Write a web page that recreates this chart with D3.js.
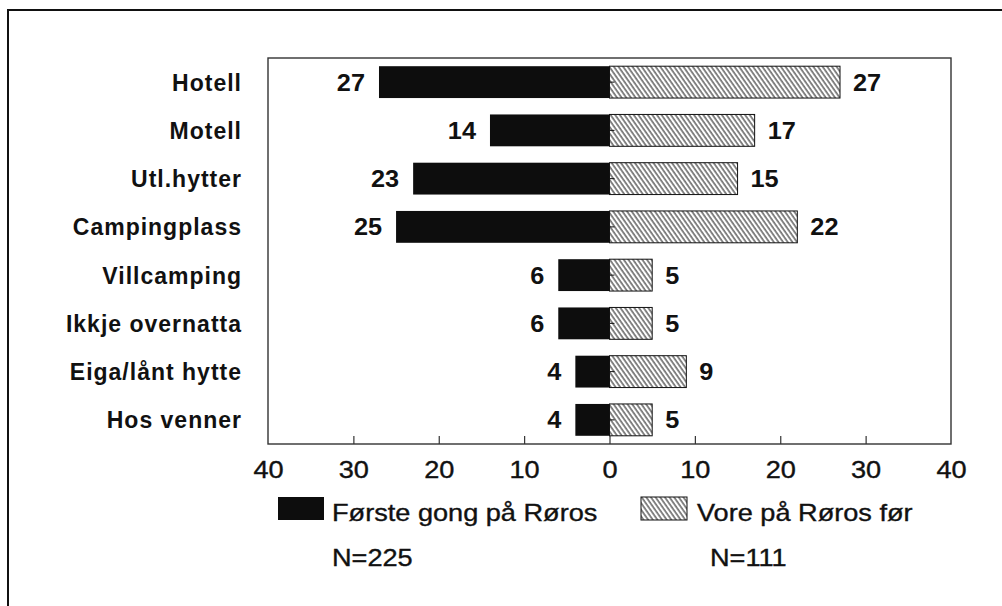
<!DOCTYPE html>
<html>
<head>
<meta charset="utf-8">
<script src="https://cdn.jsdelivr.net/npm/d3@7"></script>
<style>
  html, body { margin: 0; padding: 0; background: #fff; }
  svg { display: block; }
  text { font-family: "Liberation Sans", Arial, sans-serif; fill: #111; }
</style>
</head>
<body>
<svg id="chart" width="1002" height="606"></svg>
<script>
const categories = ["Hotell", "Motell", "Utl.hytter", "Campingplass", "Villcamping", "Ikkje overnatta", "Eiga/lånt hytte", "Hos venner"];
const firstTime = [27, 14, 23, 25, 6, 6, 4, 4];     // Første gong på Røros
const beenBefore = [27, 17, 15, 22, 5, 5, 9, 5];    // Vore på Røros før
const tickValues = [-40, -30, -20, -10, 0, 10, 20, 30, 40];
const legendLabels = ["Første gong på Røros", "Vore på Røros før"];
const nLabels = ["N=225", "N=111"];

(function () {
const svg = d3.select("#chart");
const SX = 1.18; // horizontal stretch of the wide typeface

const defs = svg.append("defs");
defs.append("pattern")
  .attr("id", "hatch")
  .attr("patternUnits", "userSpaceOnUse")
  .attr("width", 3.8).attr("height", 10)
  .attr("patternTransform", "rotate(-35)")
  .append("line")
  .attr("x1", 1).attr("y1", 0).attr("x2", 1).attr("y2", 10)
  .attr("stroke", "#111").attr("stroke-width", 1);

// outer frame
svg.append("rect")
  .attr("x", 8).attr("y", 10).attr("width", 1010).attr("height", 620)
  .attr("fill", "none").attr("stroke", "#111").attr("stroke-width", 2);

const pL = 268, pR = 951, pT = 58, pB = 444;
const x = d3.scaleLinear().domain([-40, 40]).range([pL, pR]);
const y = d3.scaleBand().domain(categories).range([pT, pB]).paddingInner(0.34).paddingOuter(0.17);

// plot box
svg.append("rect")
  .attr("x", pL).attr("y", pT).attr("width", pR - pL).attr("height", pB - pT)
  .attr("fill", "none").attr("stroke", "#333").attr("stroke-width", 1.4);

// bottom axis (ticks pointing inward)
const axis = d3.axisBottom(x).tickValues(tickValues).tickSizeInner(-8).tickSizeOuter(0)
  .tickFormat(d => Math.abs(d)).tickPadding(0);
const gAxis = svg.append("g").attr("transform", `translate(0,${pB})`).call(axis);
gAxis.select(".domain").remove();
gAxis.selectAll(".tick line").attr("stroke", "#333").attr("stroke-width", 1.2)
  .filter(d => Math.abs(d) === 40).remove();
gAxis.selectAll(".tick text")
  .attr("y", 0).attr("dy", 0)
  .attr("transform", `translate(0,34) scale(${SX},1)`)
  .attr("font-family", null).attr("font-size", null)
  .style("font-size", "23px")
  .style("font-family", "'Liberation Sans', Arial, sans-serif")
  .style("fill", "#111").style("stroke", "#111").style("stroke-width", 0.35);

const rows = categories.map((c, i) => ({ c, a: firstTime[i], b: beenBefore[i] }));

// black bars (left)
svg.selectAll(".barA").data(rows).join("rect")
  .attr("class", "barA")
  .attr("x", d => x(-d.a)).attr("y", d => y(d.c))
  .attr("width", d => x(0) - x(-d.a)).attr("height", y.bandwidth())
  .attr("fill", "#0d0d0d");

// hatched bars (right)
svg.selectAll(".barB").data(rows).join("rect")
  .attr("class", "barB")
  .attr("x", x(0)).attr("y", d => y(d.c))
  .attr("width", d => x(d.b) - x(0)).attr("height", y.bandwidth())
  .attr("fill", "url(#hatch)").attr("stroke", "#111").attr("stroke-width", 1);

// small zero ticks
svg.selectAll(".zt").data(rows).join("line")
  .attr("class", "zt")
  .attr("x1", x(0)).attr("x2", x(0) + 5)
  .attr("y1", d => y(d.c) + y.bandwidth() / 2).attr("y2", d => y(d.c) + y.bandwidth() / 2)
  .attr("stroke", "#111").attr("stroke-width", 1);

const mid = d => y(d.c) + y.bandwidth() / 2 + 8.5;

// category labels
svg.selectAll(".cat").data(rows).join("text")
  .attr("class", "cat")
  .attr("transform", d => `translate(242,${mid(d)})`)
  .attr("text-anchor", "end")
  .style("font-size", "23px").style("font-weight", "bold").style("letter-spacing", "1px")
  .text(d => d.c);

// value labels
svg.selectAll(".va").data(rows).join("text")
  .attr("class", "va")
  .attr("transform", d => `translate(${x(-d.a) - 14},${mid(d)}) scale(1.1,1)`)
  .attr("text-anchor", "end")
  .style("font-size", "23px").style("font-weight", "bold")
  .text(d => d.a);
svg.selectAll(".vb").data(rows).join("text")
  .attr("class", "vb")
  .attr("transform", d => `translate(${x(d.b) + 13},${mid(d)}) scale(1.1,1)`)
  .attr("text-anchor", "start")
  .style("font-size", "23px").style("font-weight", "bold")
  .text(d => d.b);

// legend
const legend = [
  { label: legendLabels[0], fill: "#0d0d0d", sx: 278, tx: 332, n: nLabels[0], nx: 332, stroke: "none" },
  { label: legendLabels[1], fill: "url(#hatch)", sx: 641, tx: 697, n: nLabels[1], nx: 710, stroke: "#111" }
];
legend.forEach(l => {
  svg.append("rect").attr("x", l.sx).attr("y", 497).attr("width", 46).attr("height", 23)
    .attr("fill", l.fill).attr("stroke", l.stroke).attr("stroke-width", 1);
  svg.append("text").attr("transform", `translate(${l.tx},521) scale(${SX},1)`)
    .style("font-size", "23px").style("stroke", "#111").style("stroke-width", 0.35)
    .text(l.label);
  svg.append("text").attr("transform", `translate(${l.nx},566) scale(${SX},1)`)
    .style("font-size", "23px").style("stroke", "#111").style("stroke-width", 0.35)
    .text(l.n);
});
})();
</script>
</body>
</html>
